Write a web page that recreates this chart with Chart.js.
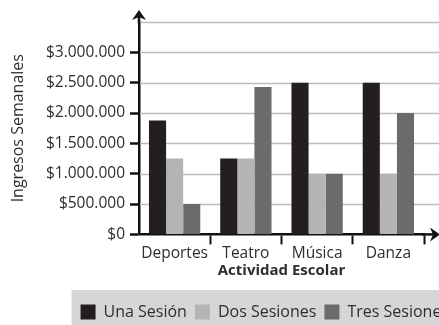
<!DOCTYPE html>
<html>
<head>
<meta charset="utf-8">
<script src="https://cdn.jsdelivr.net/npm/chart.js@4/dist/chart.umd.min.js"></script>
<style>
    html, body { margin: 0; padding: 0; background: #fff; overflow: hidden; }
    #wrap { position: relative; width: 457px; height: 330px; }
</style>
</head>
<body>
<div id="wrap"><canvas id="chart"></canvas></div>
<script>
    const categories = ['Deportes', 'Teatro', 'Música', 'Danza'];
    const seriesNames = ['Una Sesión', 'Dos Sesiones', 'Tres Sesiones'];
    const unaSesion = [1875000, 1250000, 2500000, 2500000];
    const dosSesiones = [1250000, 1250000, 1000000, 1000000];
    const tresSesiones = [500000, 2430000, 1000000, 2000000];
    const yTicks = [0, 500000, 1000000, 1500000, 2000000, 2500000, 3000000, 3500000];
    const yTop = 3500000;
    const colors = ['#231f20', '#b3b4b6', '#6b6b6b'];

    const FONT = '"Open Sans", sans-serif';
    const INK = '#2e2e2e';
    const GRID = '#bdbdbd';
    const NONE = 'rgba(0,0,0,0)';

    function money(v) {
        if (v === 0) return '$0';
        return '$' + String(v).replace(/\B(?=(\d{3})+(?!\d))/g, '.');
    }

    // grey legend strip, gridlines (also past the last category), axis arrows
    const decor = {
        id: 'decor',
        beforeDraw(chart) {
            const ctx = chart.ctx;
            const lg = chart.legend;
            if (lg && lg.legendHitBoxes.length) {
                const first = lg.legendHitBoxes[0];
                const mid = first.top + first.height / 2;
                ctx.save();
                ctx.fillStyle = '#d6d6d7';
                ctx.fillRect(first.left - 9, mid - 22, chart.width, chart.height);
                ctx.restore();
            }
        },
        beforeDatasetsDraw(chart) {
            const ctx = chart.ctx;
            const a = chart.chartArea;
            const y = chart.scales.y;
            ctx.save();
            ctx.strokeStyle = GRID;
            ctx.lineWidth = 1.5;
            yTicks.forEach(v => {
                if (v === 0) return;
                const py = Math.round(y.getPixelForValue(v)) + 0.5;
                ctx.beginPath();
                ctx.moveTo(a.left + 1, py);
                ctx.lineTo(chart.width, py);
                ctx.stroke();
            });
            ctx.restore();
        },
        afterDraw(chart) {
            const ctx = chart.ctx;
            const a = chart.chartArea;
            const endX = 439;
            ctx.save();
            ctx.strokeStyle = '#111';
            ctx.fillStyle = '#111';
            ctx.lineWidth = 2.5;
            // x axis extension + arrow
            ctx.beginPath();
            ctx.moveTo(a.right - 2, a.bottom);
            ctx.lineTo(endX - 4, a.bottom);
            ctx.stroke();
            ctx.beginPath();
            ctx.moveTo(endX + 1, a.bottom);
            ctx.lineTo(endX - 9, a.bottom - 7);
            ctx.lineTo(endX - 6, a.bottom);
            ctx.lineTo(endX - 9, a.bottom + 7);
            ctx.closePath();
            ctx.fill();
            // y axis extension + arrow
            const x0 = a.left;
            ctx.beginPath();
            ctx.moveTo(x0, a.top + 2);
            ctx.lineTo(x0, a.top - 6);
            ctx.stroke();
            ctx.beginPath();
            ctx.moveTo(x0, a.top - 12);
            ctx.lineTo(x0 - 7, a.top - 2);
            ctx.lineTo(x0, a.top - 5);
            ctx.lineTo(x0 + 7, a.top - 2);
            ctx.closePath();
            ctx.fill();
            ctx.restore();
        }
    };

    const ctx = document.getElementById('chart').getContext('2d');
    new Chart(ctx, {
        type: 'bar',
        data: {
            labels: categories,
            datasets: [unaSesion, dosSesiones, tresSesiones].map((d, i) => ({
                label: seriesNames[i],
                data: d,
                backgroundColor: colors[i],
                borderWidth: 0,
                categoryPercentage: 0.72,
                barPercentage: 1.0
            }))
        },
        options: {
            responsive: true,
            maintainAspectRatio: false,
            animation: false,
            layout: { padding: { top: 22, right: 0, left: 9, bottom: 0 } },
            plugins: {
                legend: {
                    position: 'bottom',
                    align: 'end',
                    labels: {
                        boxWidth: 15,
                        boxHeight: 15,
                        padding: 8,
                        color: INK,
                        font: { family: FONT, size: 16 }
                    }
                },
                tooltip: { enabled: false }
            },
            scales: {
                x: {
                    offset: true,
                    grid: {
                        offset: true,
                        drawOnChartArea: false,
                        drawTicks: true,
                        tickLength: 10,
                        tickWidth: 2,
                        tickColor: c => (c.index === 0 || c.index >= categories.length) ? NONE : '#111',
                        color: NONE
                    },
                    border: { color: '#111', width: 2.5 },
                    ticks: {
                        color: INK,
                        padding: 0,
                        maxRotation: 0,
                        autoSkip: false,
                        font: { family: FONT, size: 15.5 }
                    },
                    title: {
                        display: true,
                        text: 'Actividad Escolar',
                        color: INK,
                        padding: { top: -1, bottom: 16 },
                        font: { family: FONT, size: 15, weight: 'bold' }
                    }
                },
                y: {
                    min: 0,
                    max: yTop,
                    afterBuildTicks: s => { s.ticks = yTicks.map(v => ({ value: v })); },
                    afterFit: s => { s.width = 130; },
                    grid: {
                        color: NONE,
                        tickLength: 9,
                        tickWidth: 2.5,
                        tickColor: c => c.tick && c.tick.value === yTop ? NONE : '#111'
                    },
                    border: { color: '#111', width: 2.5 },
                    ticks: {
                        color: c => c.tick && c.tick.value === yTop ? NONE : INK,
                        padding: 5,
                        font: { family: FONT, size: 15.5 },
                        callback: v => money(v)
                    },
                    title: {
                        display: true,
                        text: 'Ingresos Semanales',
                        color: INK,
                        padding: { top: 0, bottom: 8 },
                        font: { family: FONT, size: 16 }
                    }
                },
                // empty strip on the right so the categories end before the arrow
                gutter: {
                    axis: 'y',
                    position: 'right',
                    display: true,
                    grid: { display: false, drawTicks: false },
                    border: { display: false },
                    ticks: { display: false },
                    afterFit: s => { s.width = 33; }
                }
            }
        },
        plugins: [decor]
    });
</script>
</body>
</html>
